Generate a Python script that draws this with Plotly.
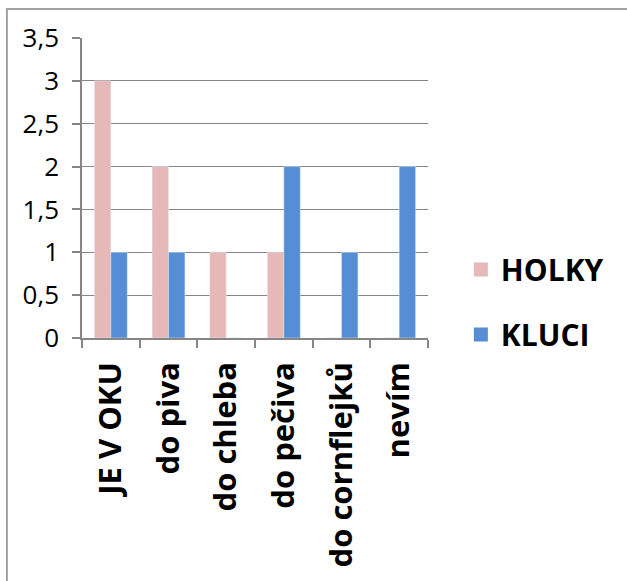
import plotly.graph_objects as go

categories = ["JE V OKU", "do piva", "do chleba", "do pečiva", "do cornflejků", "nevím"]
holky = [3, 2, 1, 1, 0, 0]
kluci = [1, 1, 0, 2, 1, 2]
y_ticks = [0, 0.5, 1, 1.5, 2, 2.5, 3, 3.5]

PINK = "#E6B9B8"
BLUE = "#558ED5"
GRAY = "#868686"

fig = go.Figure()
fig.add_trace(go.Bar(x=categories, y=holky, name="HOLKY", marker_color=PINK, showlegend=False))
fig.add_trace(go.Bar(x=categories, y=kluci, name="KLUCI", marker_color=BLUE, showlegend=False))
for nm, col, grp in [("HOLKY", PINK, "a"), ("KLUCI", BLUE, "b")]:
    fig.add_trace(go.Scatter(x=[None], y=[None], mode="markers", name=nm, legendgroup=grp,
                             marker=dict(symbol="square", size=16, color=col,
                                         line=dict(color=col, width=4))))

fig.update_layout(
    width=627, height=581,
    margin=dict(l=82, r=199, t=38, b=243, autoexpand=False),
    paper_bgcolor="white", plot_bgcolor="white",
    barmode="group", bargap=0.43, bargroupgap=0,
    separators=", ",
    font=dict(family="Open Sans", color="black"),
    legend=dict(x=1.095, y=0.12, xanchor="left", yanchor="middle",
                font=dict(size=30, family="Open Sans", weight="bold"),
                tracegroupgap=23, itemsizing="constant"),
    xaxis=dict(showline=True, linecolor=GRAY, linewidth=1.5, ticks="outside",
               tickson="boundaries", ticklen=8, tickcolor=GRAY, tickwidth=1.5,
               tickangle=-90, tickfont=dict(size=31, family="Open Sans", weight="bold"),
               ticklabelstandoff=10, showgrid=False, automargin=False),
    yaxis=dict(range=[0, 3.5], tickvals=y_ticks, showline=True, linecolor=GRAY, linewidth=1.5,
               ticks="outside", ticklen=8, tickcolor=GRAY, tickwidth=1.5,
               showgrid=True, gridcolor=GRAY, gridwidth=1.2, zeroline=False,
               tickfont=dict(size=26, family="Open Sans"), ticklabelstandoff=8, automargin=False),
    shapes=[dict(type="rect", xref="paper", yref="paper", x0=-0.217, x1=2.0, y0=-2.0, y1=1.097,
                 line=dict(color=GRAY, width=1.5), layer="below")],
)

fig.write_html("out.html", config={"displayModeBar": False},
               post_script="document.body.style.margin='0';")
